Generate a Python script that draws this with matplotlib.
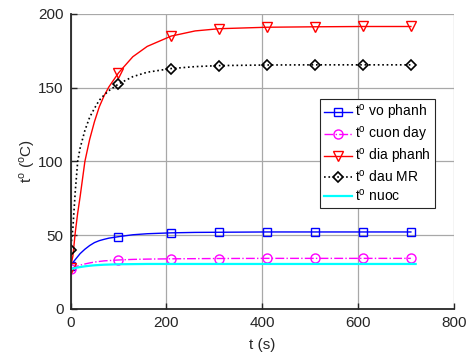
import matplotlib
matplotlib.use("Agg")
import matplotlib.pyplot as plt

plt.rcParams["font.family"] = ["Liberation Sans", "DejaVu Sans"]
plt.rcParams["mathtext.fontset"] = "custom"
plt.rcParams["mathtext.rm"] = "Liberation Sans"

# time samples (s)
t = [0, 5, 10, 15, 20, 30, 40, 50, 60, 70, 80, 100, 130, 160, 210, 260,
     310, 410, 510, 610, 710]
t_nuoc = t + [720]
marker_t = [0, 100, 210, 310, 410, 510, 610, 710]

vo_phanh = [29, 31.5, 33.5, 35.5, 37.5, 40.5, 43, 45, 46.3, 47.2, 48, 49,
            50.3, 51, 51.6, 51.9, 52, 52.2, 52.2, 52.2, 52.2]
cuon_day = [27, 27.8, 28.5, 29.1, 29.7, 30.5, 31.2, 31.8, 32.2, 32.6, 32.8,
            33.2, 33.6, 33.8, 34, 34.1, 34.2, 34.3, 34.3, 34.3, 34.3]
dia_phanh = [28, 36, 52, 65, 76, 100, 115, 127, 137, 144.5, 150.5, 160,
             171, 178, 185, 188.5, 190, 191, 191.3, 191.5, 191.5]
dau_mr = [40, 55, 80, 100, 109, 121, 130, 136, 141.5, 145, 148, 152.5,
          157.5, 160.5, 163, 164.3, 165, 165.4, 165.5, 165.5, 165.5]
nuoc = [27, 27.4, 27.8, 28.1, 28.4, 28.9, 29.3, 29.6, 29.8, 30, 30.1, 30.3,
        30.4, 30.5, 30.5, 30.5, 30.5, 30.5, 30.5, 30.5, 30.5, 30.5]

labels = [r"t$^{\mathrm{o}}$ vo phanh", r"t$^{\mathrm{o}}$ cuon day",
          r"t$^{\mathrm{o}}$ dia phanh", r"t$^{\mathrm{o}}$ dau MR",
          r"t$^{\mathrm{o}}$ nuoc"]

mk = [t.index(m) for m in marker_t]

fig = plt.figure(figsize=(4.7, 3.58), dpi=100)
ax = fig.add_axes([0.150, 0.137, 0.816, 0.824])

ax.plot(t, vo_phanh, "-", color="#0000ff", lw=1.0, marker="s", ms=5.5,
        mfc="none", mew=1.0, markevery=mk, label=labels[0])
ax.plot(t, cuon_day, "-.", color="#ff00ff", lw=1.0, marker="o", ms=6.5,
        mfc="none", mew=1.0, markevery=mk, label=labels[1])
ax.plot(t, dia_phanh, "-", color="#ff0000", lw=1.0, marker="v", ms=7,
        mfc="none", mew=1.0, markevery=mk, label=labels[2])
ax.plot(t, dau_mr, ":", color="black", lw=1.2, marker="D", ms=5.5,
        mfc="none", mew=1.2, markevery=mk, label=labels[3])
ax.plot(t_nuoc, nuoc, "-", color="#00ffff", lw=1.6, label=labels[4])

ax.set_xlim(0, 800)
ax.set_ylim(0, 200)
ax.set_xticks([0, 200, 400, 600, 800])
ax.set_yticks([0, 50, 100, 150, 200])
ax.grid(True, color="#a8a8a8", lw=0.9)
ax.set_axisbelow(True)

for s in ["top", "right"]:
    ax.spines[s].set_visible(False)
for s in ["left", "bottom"]:
    ax.spines[s].set_color("#262626")
    ax.spines[s].set_linewidth(1.3)
ax.tick_params(direction="in", length=4, width=1, colors="#262626",
               labelsize=11, pad=5)

ax.set_xlabel("t (s)", fontsize=11, color="#262626", labelpad=6)
ax.set_ylabel(r"t$^{\mathrm{o}}$ ($^{\mathrm{o}}$C)", fontsize=11,
              color="#262626", labelpad=1)

leg = ax.legend(loc="upper right", bbox_to_anchor=(0.95, 0.711),
                borderaxespad=0, fontsize=10, fancybox=False,
                framealpha=1, edgecolor="#262626", handlelength=2.0,
                handletextpad=0.2, borderpad=0.3, labelspacing=0.2)
leg.get_frame().set_linewidth(0.8)

fig.savefig("out.png", dpi=100)
